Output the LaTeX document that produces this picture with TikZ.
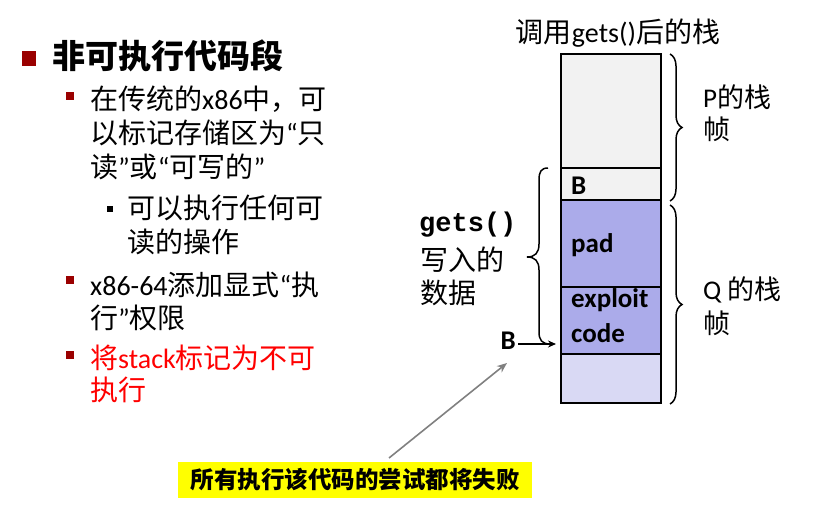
\documentclass[tikz,border=0pt]{standalone}
\usepackage{fontspec}
\setmainfont{Noto Sans CJK SC}
\newfontfamily\lat{Carlito}
\newfontfamily\mono{Liberation Mono}
\usetikzlibrary{decorations.pathreplacing,arrows.meta}
\definecolor{bulred}{HTML}{9A0000}
\definecolor{cellgray}{HTML}{F2F2F2}
\definecolor{cellblue}{HTML}{ABABEA}
\definecolor{celllight}{HTML}{D9D9F4}
\definecolor{txtred}{HTML}{FF0000}
\definecolor{hlyellow}{HTML}{FFFF00}
\newcommand{\fsz}[1]{\fontsize{#1}{#1}\selectfont}
\newcommand{\myLq}{{\lat “}}
\newcommand{\myRq}{{\lat ”}}
\tikzset{
  txt/.style={anchor=west,inner sep=0pt,font=\fsz{28}},
  redtxt/.style={txt,text=txtred},
  bulbig/.style={fill=bulred,draw=none},
  cell/.style={draw=black,line width=1.8pt},
  celltxt/.style={anchor=west,inner sep=0pt,font=\lat\bfseries\fsz{27}},
  bracestyle/.style={decorate,decoration={brace,amplitude=12pt},line width=1.5pt},
}
\begin{document}
\begin{tikzpicture}[x=1pt,y=-1pt]
\useasboundingbox (0,0) rectangle (817,524);
% ---- left bullets ----
\fill[bulbig] (22,51) rectangle (36,66);
\node[txt,font=\bfseries\fsz{33}] (t1) at (52,56) {非可执行代码段};
\fill[bulbig] (66,92) rectangle (74,100);
\node[txt] (t2a) at (90,99) {在传统的{\lat x86}中，可};
\node[txt] (t2b) at (90,133) {以标记存储区为\myLq 只};
\node[txt] (t2c) at (90,167) {读\myRq 或\myLq 可写的\myRq};
\fill[black] (107,206) rectangle (113,212);
\node[txt] (t3a) at (127,208) {可以执行任何可};
\node[txt] (t3b) at (127,242) {读的操作};
\fill[bulbig] (66,276) rectangle (74,284);
\node[txt] (t4a) at (90,285) {{\lat x86-64}添加显式\myLq 执};
\node[txt] (t4b) at (90,318) {行\myRq 权限};
\fill[bulbig] (66,351) rectangle (74,359);
\node[redtxt] (t5a) at (90,358) {将{\lat stack}标记为不可};
\node[redtxt] (t5b) at (90,390) {执行};
% ---- stack ----
\node[anchor=center,inner sep=0pt,font=\fsz{28}] (title) at (618,33) {调用{\lat gets()}后的栈};
\draw[cell,fill=cellgray] (561,54) rectangle (661,168);
\draw[cell,fill=cellgray] (561,168) rectangle (661,200);
\draw[cell,fill=cellblue] (561,200) rectangle (661,287);
\draw[cell,fill=cellblue] (561,287) rectangle (661,354);
\draw[cell,fill=celllight] (561,354) rectangle (661,403);
\coordinate (btip) at (556,344);
\node[celltxt] (cB) at (571,186) {B};
\node[celltxt] (cpad) at (571,245) {pad};
\node[celltxt] (cex) at (571,300) {exploit};
\node[celltxt] (ccode) at (571,333) {code};
% right braces
\draw[bracestyle] (670,54) -- (670,201);
\draw[bracestyle] (670,205) -- (670,404);
\node[txt,font=\fsz{27}] (pf1) at (703,97) {{\lat P}的栈};
\node[txt,font=\fsz{27}] (pf2) at (703,129) {帧};
\node[txt,font=\fsz{27}] (qf1) at (703,290) {{\lat Q} 的栈};
\node[txt,font=\fsz{27}] (qf2) at (703,323) {帧};
% left brace
\draw[line width=1.5pt] (548,168) .. controls (541,168) and (539,172) .. (539,180)
  -- (539,244) .. controls (539,253) and (535,257) .. (527,257)
  .. controls (535,257) and (539,261) .. (539,270)
  -- (539,332) .. controls (539,340) and (542,344) .. (550,344);
\node[txt,font=\fsz{27}\mono\bfseries] (gets) at (419,225) {gets()};
\node[txt] (w1) at (420,260) {写入的};
\node[txt] (w2) at (420,293) {数据};
\node[anchor=east,inner sep=0pt,font=\lat\bfseries\fsz{27}] (bptr) at (516,341) {B};
\draw[line width=1.6pt,-{Stealth[length=8pt,width=7pt]}] (bptr.east |- btip) ++(2,0) -- (btip);
% ---- yellow note ----
\node[fill=hlyellow,minimum width=354pt,minimum height=36pt,inner sep=0pt,font=\bfseries\fsz{23.5}] (note) at (355,480) {所有执行该代码的尝试都将失败};
\draw[line width=1.6pt,color=black!50,-{Stealth[length=10pt,width=8pt]}] (389,458) -- (507,363);
\end{tikzpicture}
\end{document}
